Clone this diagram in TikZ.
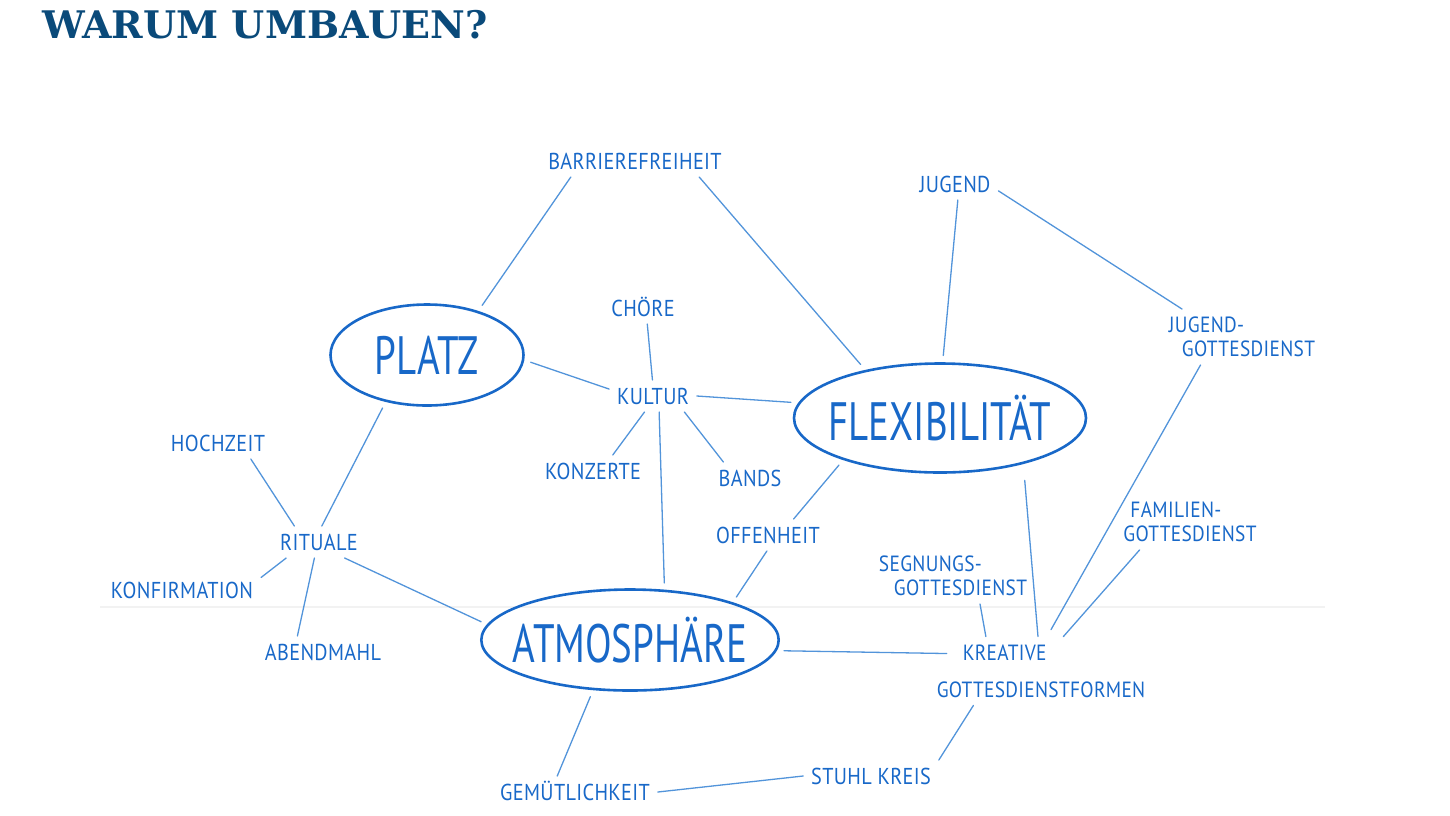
\documentclass[tikz,border=0pt]{standalone}
\usepackage{fontspec}
\usepackage{xcolor}
\usepackage{tikz}
\usetikzlibrary{shapes,positioning}
\newfontfamily\hand[FakeStretch=0.88,LetterSpace=1.5]{PT Sans}
\newfontfamily\handbig[FakeStretch=0.72]{PT Sans}
\newfontfamily\titlefont{DejaVu Serif}
\definecolor{ink}{RGB}{24,104,200}
\definecolor{linkblue}{RGB}{82,148,218}
\definecolor{titleblue}{RGB}{10,74,122}

\begin{document}
\begin{tikzpicture}[x=1pt, y=-1pt,
  topic/.style={ellipse, draw=ink, line width=2.6pt, inner sep=0pt, inner xsep=-12pt, outer sep=8pt, text=ink, font=\handbig\fontsize{54}{54}\selectfont},
  lbl/.style={text=ink, inner sep=0pt, outer sep=8pt, text height=16pt, text depth=0pt, font=\hand\fontsize{23}{23}\selectfont},
  lbltwo/.style={text=ink, inner sep=0pt, outer sep=8pt, align=left, font=\hand\fontsize{22}{#1}\selectfont},
  link/.style={draw=linkblue, line width=1.3pt, line cap=round}]
  \useasboundingbox (0,0) rectangle (1450,815);
  \draw[black!5, line width=2pt] (100,607) -- (1325,607);
  \node[anchor=base west, inner sep=0pt, text=titleblue, font=\titlefont\bfseries\fontsize{38}{38}\selectfont] (title) at (42,38) {WARUM UMBAUEN?};

  \node[topic, minimum width=193pt, minimum height=101pt] (platz) at (427,355) {PLATZ};
  \node[topic, minimum width=292pt, minimum height=109pt] (flex) at (940,418) {FLEXIBILITÄT};
  \node[topic, minimum width=285pt, minimum height=101pt] (atmo) at (630,640) {ATMOSPHÄRE};

  \node[lbl] (barriere) at (635,161) {BARRIEREFREIHEIT};
  \node[lbl] (choere) at (643,308) {CHÖRE};
  \node[lbl] (kultur) at (653,396) {KULTUR};
  \node[lbl] (konzerte) at (593,471) {KONZERTE};
  \node[lbl] (bands) at (750,478) {BANDS};
  \node[lbl] (offenheit) at (768,535) {OFFENHEIT};
  \node[lbl] (jugend) at (955,184) {JUGEND};
  \node[lbltwo=24pt] (jugendgd) at (1242,337) {JUGEND-\\\hspace*{13pt}GOTTESDIENST};
  \node[lbl] (hochzeit) at (218,443) {HOCHZEIT};
  \node[lbl] (rituale) at (319,542) {RITUALE};
  \node[lbl] (konfirmation) at (182,590) {KONFIRMATION};
  \node[lbl] (abendmahl) at (323,652) {ABENDMAHL};
  \node[lbl] (gemuetlich) at (575,792) {GEMÜTLICHKEIT};
  \node[lbl] (stuhlkreis) at (871,776) {STUHL KREIS};
  \node[lbltwo=37pt] (kreativ) at (1041,671) {\hspace*{26pt}KREATIVE\\GOTTESDIENSTFORMEN};
  \node[lbltwo=24pt] (segnung) at (953,576) {SEGNUNGS-\\\hspace*{15pt}GOTTESDIENST};
  \node[lbltwo=24pt] (familie) at (1190,522) {\hspace*{7pt}FAMILIEN-\\GOTTESDIENST};

  \draw[link] (barriere.194) -- (platz.42);
  \draw[link] (barriere.346) -- (flex.146);
  \draw[link] (jugend.280) -- (flex.87);
  \draw[link] (jugend.351) -- (jugendgd.155);
  \draw[link, shorten >=8pt] (jugendgd.214) -- (kreativ.80);
  \draw[link] (platz.356) -- (kultur.171);
  \draw[link] (choere.285) -- (kultur.92);
  \draw[link] (kultur.east) -- (flex.174);
  \draw[link] (kultur.242) -- (konzerte.39);
  \draw[link] (kultur.333) -- (bands.149);
  \draw[link] (kultur.291) -- (atmo.59);
  \draw[link] (flex.205) -- (offenheit.32);
  \draw[link] (offenheit.266) -- (atmo.22);
  \draw[link, shorten <=10pt] (flex.328) -- (kreativ.95);
  \draw[link] (platz.230) -- (rituale.80);
  \draw[link] (hochzeit.334) -- (rituale.147);
  \draw[link] (rituale.206) -- (konfirmation.9);
  \draw[link] (rituale.254) -- (abendmahl.148);
  \draw[link] (rituale.328) -- (atmo.173);
  \draw[link, shorten >=-18pt] (atmo.356) -- (kreativ.171);
  \draw[link] (segnung.314) -- (kreativ.148);
  \draw[link] (familie.209) -- (kreativ.57);
  \draw[link] (atmo.235) -- (gemuetlich.138);
  \draw[link] (gemuetlich.east) -- (stuhlkreis.west);
  \draw[link] (stuhlkreis.north east) -- (kreativ.207);
\end{tikzpicture}
\end{document}
